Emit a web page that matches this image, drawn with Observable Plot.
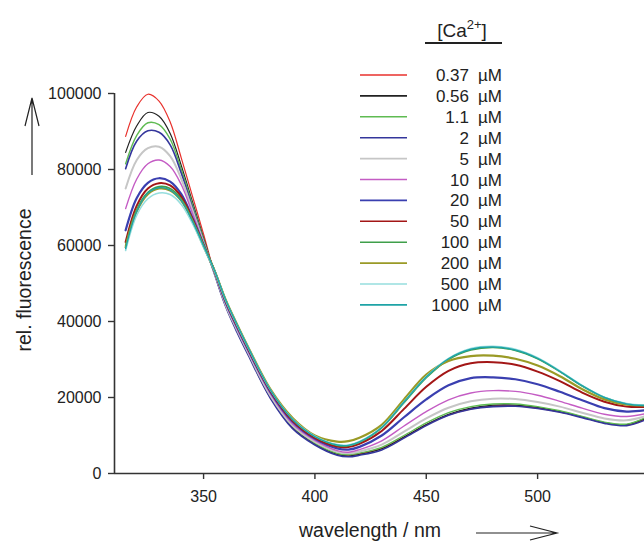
<!DOCTYPE html>
<html>
<head>
<meta charset="utf-8">
<script src="https://cdn.jsdelivr.net/npm/d3@7"></script>
<script src="https://cdn.jsdelivr.net/npm/@observablehq/plot@0.6"></script>
<style>
  html, body { margin: 0; padding: 0; background: #fff; }
  #chart { width: 644px; height: 543px; overflow: hidden; }
</style>
</head>
<body>
<div id="chart"></div>
<script>
// ---- data ----
const wavelengths = [315,320,325,330,335,340,345,350,355,360,365,370,380,390,400,410,415,420,430,440,450,460,470,480,490,500,510,520,530,540,548];
const caLabels = ["0.37","0.56","1.1","2","5","10","20","50","100","200","500","1000"];
const ca0_37 = [88.7,96.5,99.8,98.0,92.5,83.0,73.0,63.0,52.5,44.0,37.5,31.5,20.0,12.0,7.8,5.2,4.8,5.2,6.6,9.6,12.8,15.4,17.0,17.8,17.8,17.2,16.2,14.8,13.3,12.8,14.2];
const ca0_56 = [84.5,91.5,95.0,94.0,89.5,81.0,71.5,62.0,52.5,44.0,37.5,31.5,20.0,12.2,7.8,5.0,4.6,5.0,6.5,9.6,12.9,15.6,17.2,18.0,18.0,17.4,16.3,14.9,13.4,12.9,14.4];
const ca1_1  = [81.5,89.0,92.3,91.8,88.0,80.0,70.8,61.5,52.6,44.2,37.8,31.8,20.3,12.4,8.0,5.3,5.0,5.4,6.9,10.0,13.3,16.0,17.6,18.3,18.3,17.6,16.5,15.0,13.5,13.0,14.6];
const ca2    = [80.2,87.5,90.2,89.8,86.5,79.0,70.0,61.0,52.3,43.8,37.2,31.2,19.8,11.8,7.5,4.8,4.4,4.8,6.2,9.3,12.6,15.3,16.9,17.6,17.7,17.1,16.1,14.7,13.2,12.6,14.0];
const ca5    = [75.0,82.5,85.6,86.0,83.5,77.5,69.3,60.8,52.6,44.2,37.8,31.8,20.5,12.6,8.3,5.7,5.3,5.8,7.6,11.0,14.5,17.3,19.0,19.7,19.6,18.8,17.6,16.0,14.5,14.0,15.0];
const ca10   = [69.7,77.5,81.5,82.5,80.8,76.0,68.5,60.5,52.8,44.6,38.2,32.2,21.0,13.0,8.7,6.0,5.6,6.3,8.6,12.5,16.3,19.4,21.2,21.8,21.6,20.6,19.0,17.2,15.6,15.0,15.7];
const ca20   = [64.0,72.5,76.5,77.7,76.8,73.5,67.3,60.2,53.0,45.0,38.6,32.6,21.5,13.6,9.1,6.6,6.3,7.0,10.0,14.8,19.5,23.2,25.1,25.3,24.8,23.5,21.5,19.3,17.2,16.3,16.6];
const ca50   = [60.9,70.5,75.0,76.4,75.8,72.8,67.0,60.0,53.2,45.3,38.9,32.9,21.8,13.9,9.4,7.1,7.0,7.8,11.2,17.0,22.8,27.0,29.0,29.3,28.6,26.8,24.3,21.3,18.9,17.6,17.5];
const ca100  = [60.0,69.5,74.0,75.5,75.0,72.2,66.7,60.0,53.4,45.6,39.2,33.2,22.0,14.2,9.7,7.4,7.3,8.2,12.0,18.6,25.2,30.0,32.5,33.2,32.4,30.2,26.8,23.0,20.0,18.3,17.9];
const ca200  = [59.5,69.0,73.5,75.0,74.5,71.8,66.4,59.8,53.2,45.6,39.3,33.3,22.2,14.6,10.0,8.4,8.5,9.4,12.8,19.5,26.0,29.6,30.9,31.0,30.2,28.4,25.6,22.2,19.5,18.1,17.9];
const ca500  = [58.7,68.0,72.3,73.8,73.4,70.8,65.8,59.5,53.2,45.5,39.1,33.1,22.0,14.3,9.8,7.6,7.5,8.4,12.2,18.9,25.5,30.3,32.9,33.5,32.7,30.5,27.0,23.2,20.1,18.4,18.0];
const ca1000 = [59.2,69.0,73.8,75.2,74.6,71.8,66.4,59.9,53.3,45.6,39.2,33.2,22.0,14.2,9.7,7.5,7.4,8.3,12.1,18.8,25.4,30.2,32.7,33.3,32.5,30.3,26.9,23.1,20.0,18.3,17.9];
const yTicks = [0,20000,40000,60000,80000,100000];
const xTicks = [350,400,450,500];

// ---- styles ----
const colors = ["#e8312c","#222222","#5fbb52","#34369c","#c6c6c6","#c45cc4","#3a3fb0","#a31616","#3f9f4a","#9a9a26","#96dede","#1ea3a6"];
const widths = [1.2,1.2,1.4,1.6,2.0,1.4,2.2,2.0,1.6,2.2,1.6,1.4];
const FONT = "'Liberation Sans', Arial, sans-serif";

const seriesValues = [ca0_37,ca0_56,ca1_1,ca2,ca5,ca10,ca20,ca50,ca100,ca200,ca500,ca1000];
const series = caLabels.map((ca, i) => ({
  ca, color: colors[i], width: widths[i],
  rows: wavelengths.map((w, j) => ({w, v: seriesValues[i][j] * 1000, ca}))
}));

const plot = Plot.plot({
  width: 644,
  height: 543,
  marginLeft: 114,
  marginRight: 0,
  marginTop: 93,
  marginBottom: 70,
  style: {fontFamily: FONT, fontSize: "16px", color: "#222", background: "#fff"},
  x: {domain: [310, 548]},
  y: {domain: [0, 100000]},
  marks: [
    ...series.map(s => Plot.line(s.rows, {x: "w", y: "v", stroke: s.color, strokeWidth: s.width, curve: "catmull-rom"})),
    Plot.ruleX([310], {y1: 0, y2: 100000, stroke: "#333", strokeWidth: 1.6}),
    Plot.ruleY([0], {stroke: "#333", strokeWidth: 1.6}),
    Plot.axisY({ticks: yTicks, tickSize: 6, tickPadding: 7, tickFormat: d => String(d), label: null, fontSize: 16, stroke: "#333", strokeWidth: 1.4}),
    Plot.axisX({ticks: xTicks, tickSize: 6, tickPadding: 11, tickFormat: d => String(d), label: null, fontSize: 16, stroke: "#333", strokeWidth: 1.4})
  ]
});

document.getElementById("chart").appendChild(plot);

// ---- annotations: axis titles, arrows, legend ----
const svg = d3.select(plot);
const g = svg.append("g").attr("font-family", FONT).attr("fill", "#222");

g.append("text").attr("x", 370).attr("y", 537).attr("text-anchor", "middle")
  .attr("font-size", 19.5).text("wavelength / nm");
g.append("text").attr("transform", "translate(31,280) rotate(-90)").attr("text-anchor", "middle")
  .attr("font-size", 19.5).text("rel. fluorescence");

const arrows = g.append("g").attr("stroke", "#222").attr("stroke-width", 1.2).attr("fill", "none");
arrows.append("path").attr("d", "M32,175 L32,98 M25,126 L32,98 L39,126");
arrows.append("path").attr("d", "M476,533 L557,533 M530,526 L557,533 L530,540");

// legend
const leg = g.append("g");
const hdr = leg.append("text").attr("x", 462).attr("y", 37).attr("text-anchor", "middle").attr("font-size", 19);
hdr.append("tspan").text("[Ca");
hdr.append("tspan").attr("dy", -8).attr("font-size", 13).text("2+");
hdr.append("tspan").attr("dy", 8).text("]");
leg.append("line").attr("x1", 425).attr("x2", 502).attr("y1", 43).attr("y2", 43)
  .attr("stroke", "#222").attr("stroke-width", 2);

series.forEach((s, i) => {
  const y = 75 + i * 20.9;
  leg.append("line").attr("x1", 360).attr("x2", 407).attr("y1", y).attr("y2", y)
    .attr("stroke", s.color).attr("stroke-width", 1.6);
  leg.append("text").attr("x", 469).attr("y", y + 6).attr("text-anchor", "end")
    .attr("font-size", 17).text(s.ca);
  leg.append("text").attr("x", 478).attr("y", y + 6).attr("text-anchor", "start")
    .attr("font-size", 17).text("µM");
});
</script>
</body>
</html>
